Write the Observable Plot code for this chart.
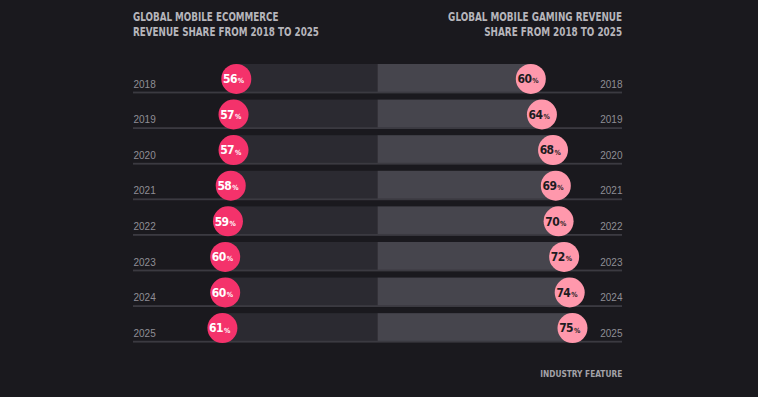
<!DOCTYPE html>
<html><head><meta charset="utf-8">
<script src="https://cdn.jsdelivr.net/npm/d3@7"></script>
<script src="https://cdn.jsdelivr.net/npm/@observablehq/plot@0.6"></script>
<style>
html,body{margin:0;padding:0;background:#1a191e;}
#wrap{position:relative;width:758px;height:397px;overflow:hidden;background:#1a191e;}
#wrap svg{position:absolute;left:0;top:0;}
.t{position:absolute;font-family:"DejaVu Sans Condensed","DejaVu Sans",sans-serif;font-weight:bold;color:#b6b5bb;font-size:12px;line-height:15.3px;white-space:nowrap;}
</style></head><body><div id="wrap"></div>
<script>
const years = [2018, 2019, 2020, 2021, 2022, 2023, 2024, 2025];
const ecommerce = [56, 57, 57, 58, 59, 60, 60, 61];
const gaming = [60, 64, 68, 69, 70, 72, 74, 75];
const titleLeft = ["GLOBAL MOBILE ECOMMERCE", "REVENUE SHARE FROM 2018 TO 2025"];
const titleRight = ["GLOBAL MOBILE GAMING REVENUE", "SHARE FROM 2018 TO 2025"];
const footer = "INDUSTRY FEATURE";

const base = 5; // bars grow from the 5% mark at the centre line
const rows = years.map((y, i) => ({year: String(y), ecom: ecommerce[i], game: gaming[i]}));

const numFont = '"DejaVu Sans Condensed",sans-serif';
const plot = Plot.plot({
  width: 758, height: 397,
  marginLeft: 133, marginRight: 136, marginTop: 64, marginBottom: 55,
  style: {background: "transparent", overflow: "visible"},
  x: {domain: [-88, 88], axis: null},
  y: {domain: rows.map(d => d.year), paddingInner: 0.19, paddingOuter: 0, round: false, axis: null},
  marks: [
    Plot.barX(rows, {y: "year", x1: d => -(d.ecom - base), x2: 0, fill: "#2b2a31"}),
    Plot.barX(rows, {y: "year", x1: 0, x2: d => d.game - base, fill: "#46454d"}),
    Plot.barX(rows, {y: "year", x1: -88, x2: 88, fill: "#3b3a41", insetTop: 27.6, insetBottom: -0.6}),
    Plot.text(rows, {y: "year", frameAnchor: "left", text: "year", textAnchor: "start", dy: 5.5, fill: "#8f8e95", fontSize: 10, fontFamily: '"Liberation Sans",sans-serif'}),
    Plot.text(rows, {y: "year", frameAnchor: "right", text: "year", textAnchor: "end", dy: 5.5, fill: "#8f8e95", fontSize: 10, fontFamily: '"Liberation Sans",sans-serif'}),
    Plot.dot(rows, {y: "year", x: d => -(d.ecom - base), r: 15, fill: "#f4326b", stroke: "none"}),
    Plot.dot(rows, {y: "year", x: d => d.game - base, r: 15, fill: "#ff98ac", stroke: "none"}),
    Plot.text(rows, {y: "year", x: d => -(d.ecom - base), text: d => String(d.ecom), textAnchor: "end", dx: 0.5, dy: 0.5, fill: "#ffffff", fontSize: 12, fontWeight: "bold", fontFamily: numFont, className: "num"}),
    Plot.text(rows, {y: "year", x: d => -(d.ecom - base), text: () => "%", textAnchor: "start", dx: 1.5, dy: 2.2, fill: "#ffffff", fontSize: 7, fontWeight: "bold", fontFamily: numFont}),
    Plot.text(rows, {y: "year", x: d => d.game - base, text: d => String(d.game), textAnchor: "end", dx: 0.5, dy: 0.5, fill: "#1d1c21", fontSize: 12, fontWeight: "bold", fontFamily: numFont, className: "num"}),
    Plot.text(rows, {y: "year", x: d => d.game - base, text: () => "%", textAnchor: "start", dx: 1.5, dy: 2.2, fill: "#1d1c21", fontSize: 7, fontWeight: "bold", fontFamily: numFont})
  ]
});
const wrap = document.getElementById("wrap");
wrap.appendChild(plot);
// narrow the big numbers a little (the original uses a condensed face)
plot.querySelectorAll(".num text").forEach(t => t.setAttribute("letter-spacing", "-0.6"));

function addText(lines, css, align, targetWidth) {
  const d = document.createElement("div");
  d.className = "t";
  Object.assign(d.style, css);
  d.style.textAlign = align;
  d.innerHTML = lines.join("<br>");
  wrap.appendChild(d);
  const w = d.getBoundingClientRect().width;
  d.style.transformOrigin = align === "left" ? "left top" : "right top";
  d.style.transform = `scaleX(${targetWidth / w})`;
  return d;
}
addText(titleLeft, {left: "133px", top: "10.2px"}, "left", 186);
addText(titleRight, {right: "135.5px", top: "10.2px"}, "right", 174);
addText([footer], {right: "136px", top: "366px", fontSize: "9.2px", color: "#a3a2a8"}, "right", 82);
</script></body></html>
